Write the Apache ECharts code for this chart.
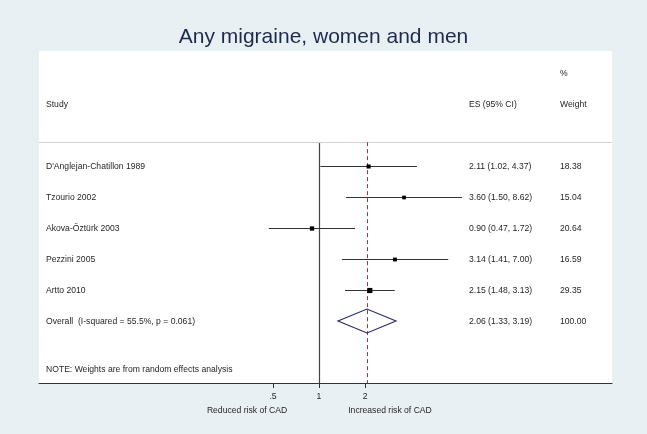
<!DOCTYPE html>
<html>
<head>
<meta charset="utf-8">
<script src="https://cdn.jsdelivr.net/npm/echarts@6/dist/echarts.min.js"></script>
<style>
html,body{margin:0;padding:0;background:#e9f0f3;}
#chart{width:647px;height:434px;}
</style>
</head>
<body>
<div id="chart"></div>
<script>
const titleText = "Any migraine, women and men";
const studies = ["D'Anglejan-Chatillon 1989", "Tzourio 2002", "Akova-Öztürk 2003", "Pezzini 2005", "Artto 2010"];
const es = [2.11, 3.60, 0.90, 3.14, 2.15];
const lo = [1.02, 1.50, 0.47, 1.41, 1.48];
const hi = [4.37, 8.62, 1.72, 7.00, 3.13];
const weights = [18.38, 15.04, 20.64, 16.59, 29.35];
const overallLabel = "Overall  (I-squared = 55.5%, p = 0.061)";
const overallEs = 2.06, overallLo = 1.33, overallHi = 3.19, overallWeight = 100.00;
const noteText = "NOTE: Weights are from random effects analysis";
const xTicks = [0.5, 1, 2];
const xTickLabels = [".5", "1", "2"];
const leftCaption = "Reduced risk of CAD";
const rightCaption = "Increased risk of CAD";
const headStudy = "Study", headEs = "ES (95% CI)", headPct = "%", headWeight = "Weight";

const FONT = "'Liberation Sans', Arial, sans-serif";
const TXT = '#262626';
const FS = 8.6;

// row positions (in y units)
const rowPct = -3, rowHead = -2, rowSep = -0.77, rowOverall = studies.length, rowNote = 6.55, rowAxis = 7;

function fmt(v){ return v.toFixed(2); }
function esText(e,l,h){ return fmt(e) + ' (' + fmt(l) + ', ' + fmt(h) + ')'; }

const tableRows = [];
tableRows.push({row: rowPct, cols: ['', '', headPct]});
tableRows.push({row: rowHead, cols: [headStudy, headEs, headWeight]});
studies.forEach((s,i)=>tableRows.push({row: i, cols: [s, esText(es[i],lo[i],hi[i]), fmt(weights[i])]}));
tableRows.push({row: rowOverall, cols: [overallLabel, esText(overallEs,overallLo,overallHi), fmt(overallWeight)]});
tableRows.push({row: rowNote, cols: [noteText, '', '']});
const colX = [46, 469, 560];

const chart = echarts.init(document.getElementById('chart'), null, {renderer:'canvas'});

const option = {
  backgroundColor: '#e9f0f3',
  animation: false,
  title: {
    text: titleText, left: 'center', top: 22,
    textStyle: {fontFamily: FONT, fontSize: 21, fontWeight: 'normal', color: '#1e2a4c'}
  },
  grid: {left: 39, right: 35, top: 51, bottom: 51, show: true, backgroundColor: '#ffffff', borderWidth: 0},
  xAxis: {
    type: 'log', logBase: Math.E, min: 0.01474, max: 82.5,
    splitLine: {show: false},
    axisLine: {show: true, onZero: false, lineStyle: {color: '#333', width: 1.2}},
    axisTick: {show: true, inside: false, length: 5, lineStyle: {color: '#333'}, customValues: xTicks},
    axisLabel: {show: true, margin: 9, fontSize: FS, fontFamily: FONT, color: TXT, customValues: xTicks,
      formatter: function(v){ const i = xTicks.findIndex(t=>Math.abs(t-v)<1e-6); return i>=0 ? xTickLabels[i] : ''; }}
  },
  yAxis: {type: 'value', inverse: true, min: -3.71, max: rowAxis, show: false},
  series: [
    {
      type: 'custom', name: 'table', coordinateSystem: 'cartesian2d',
      data: tableRows.map(r=>[1, r.row]),
      renderItem: function(params, api){
        const r = tableRows[params.dataIndex];
        const y = api.coord([1, api.value(1)])[1];
        return {type:'group', children: r.cols.map((t,j)=>({
          type:'text', x: colX[j], y: y + 0.5,
          style: {text: t, fill: TXT, font: FS + 'px ' + FONT, textAlign: 'left', textVerticalAlign: 'middle'}
        }))};
      },
      silent: true, z: 3
    },
    {
      type: 'custom', name: 'refs', coordinateSystem: 'cartesian2d',
      data: [[1, rowSep, rowAxis, 0], [overallEs, rowSep, rowAxis, 1]],
      renderItem: function(params, api){
        const x = api.value(0);
        const a = api.coord([x, api.value(1)]);
        const b = api.coord([x, api.value(2)]);
        const dashed = api.value(3) === 1;
        const children = [{
          type:'line', shape:{x1:Math.round(a[0])+0.5, y1:a[1], x2:Math.round(a[0])+0.5, y2:b[1]},
          style: dashed ? {stroke:'#a8303f', lineWidth:1, lineDash:[4,3]} : {stroke:'#444', lineWidth:1.2}
        }];
        if (params.dataIndex === 0) {
          const cs = params.coordSys;
          children.push({type:'line', shape:{x1:cs.x, y1:Math.round(a[1])+0.5, x2:cs.x+cs.width, y2:Math.round(a[1])+0.5},
            style:{stroke:'#d2d2d2', lineWidth:1}});
        }
        return {type:'group', children: children};
      },
      silent: true, z: 2
    },
    {
      type: 'custom', name: 'studies', coordinateSystem: 'cartesian2d',
      data: studies.map((s,i)=>[i, es[i], lo[i], hi[i], weights[i]]),
      encode: {x: [1,2,3], y: 0},
      renderItem: function(params, api){
        const y = api.value(0);
        const p = api.coord([api.value(1), y]);
        const l = api.coord([api.value(2), y]);
        const h = api.coord([api.value(3), y]);
        const side = Math.sqrt(api.value(4)) * 0.95;
        const yy = Math.round(p[1]) + 0.5;
        return {type:'group', children:[
          {type:'line', shape:{x1:l[0], y1:yy, x2:h[0], y2:yy}, style:{stroke:'#333', lineWidth:1.2}},
          {type:'rect', shape:{x:p[0]-side/2, y:yy-side/2, width:side, height:side}, style:{fill:'#000'}}
        ]};
      },
      silent: true, z: 4
    },
    {
      type: 'custom', name: 'overall', coordinateSystem: 'cartesian2d',
      data: [[rowOverall, overallEs, overallLo, overallHi]],
      encode: {x: [1,2,3], y: 0},
      renderItem: function(params, api){
        const y = api.value(0);
        const p = api.coord([api.value(1), y]);
        const l = api.coord([api.value(2), y]);
        const h = api.coord([api.value(3), y]);
        const hh = 12;
        return {type:'polygon', shape:{points:[[l[0],p[1]],[p[0],p[1]-hh],[h[0],p[1]],[p[0],p[1]+hh]]},
          style:{fill:'none', stroke:'#24246e', lineWidth:1.1}};
      },
      silent: true, z: 4
    }
  ]
};
option.graphic = [
  {type:'text', x: 247, y: 411, style:{text: leftCaption, fill: TXT, font: FS + 'px ' + FONT, textAlign:'center', textVerticalAlign:'middle'}},
  {type:'text', x: 390, y: 411, style:{text: rightCaption, fill: TXT, font: FS + 'px ' + FONT, textAlign:'center', textVerticalAlign:'middle'}}
];
chart.setOption(option);
</script>
</body>
</html>
